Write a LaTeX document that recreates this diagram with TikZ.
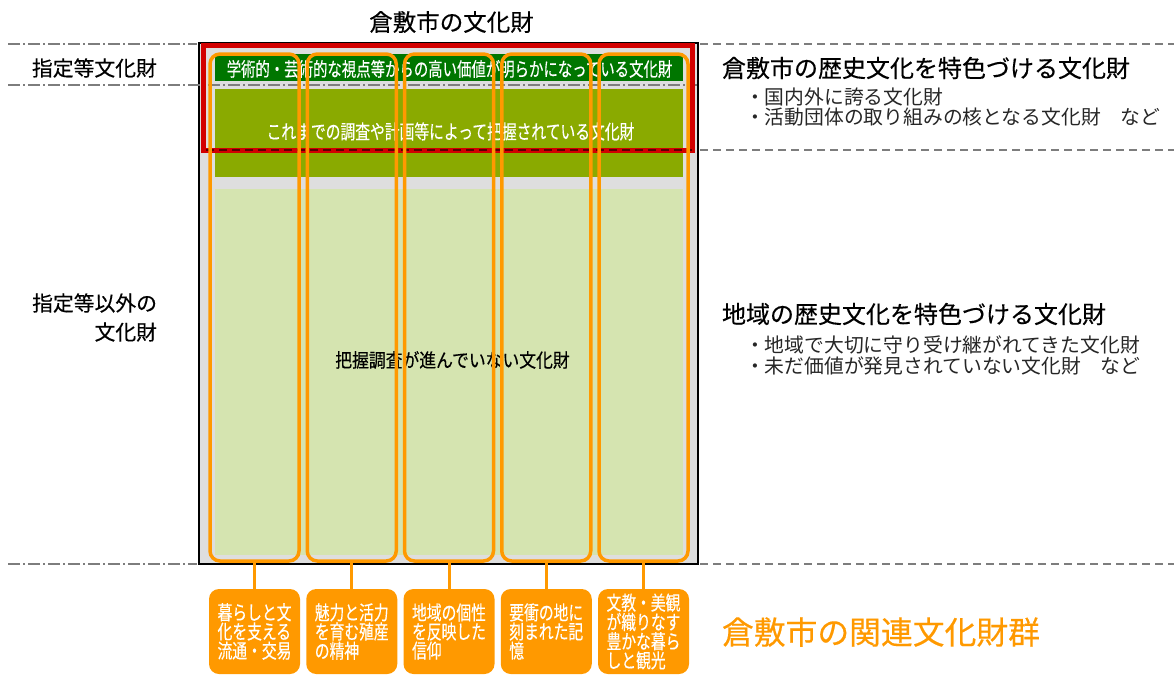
\documentclass[tikz,border=0pt]{standalone}
\usepackage{fontspec}
\setmainfont{Noto Sans CJK JP}[FakeBold=0.35]
\newfontfamily\jpl{Noto Sans CJK JP}
\newfontfamily\jpc{Noto Sans CJK JP}[FakeStretch=0.75,FakeBold=0.3]
\newfontfamily\jpd{Noto Sans CJK JP}[FakeStretch=0.88,FakeBold=0.3]
\definecolor{bggray}{RGB}{222,222,222}
\definecolor{kred}{RGB}{210,0,0}
\definecolor{kdark}{RGB}{90,0,0}
\definecolor{dgreen}{RGB}{0,118,0}
\definecolor{kolive}{RGB}{138,170,0}
\definecolor{lgreen}{RGB}{213,228,176}
\definecolor{korange}{RGB}{255,153,0}
\definecolor{lineg}{RGB}{125,125,125}
\begin{document}
\begin{tikzpicture}[x=1pt,y=-1pt,
  ddline/.style={lineg, line width=1.3pt, dash pattern=on 12pt off 3pt on 2pt off 3pt},
  dline/.style={lineg, line width=1.3pt, dash pattern=on 8pt off 5pt},
  box/.style={inner sep=0pt, outer sep=0pt},
  colbox/.style={draw=korange, line width=3.5pt, rounded corners=10pt, minimum width=89pt, minimum height=507pt, inner sep=0pt, outer sep=0pt},
  labbox/.style={fill=korange, rounded corners=10pt, minimum width=91pt, minimum height=85pt, inner sep=0pt, outer sep=0pt, text=white, font=\jpc\fontsize{19.7}{16.6}\selectfont, align=left},
  conn/.style={korange, line width=3pt},
  txt/.style={inner sep=0pt, outer sep=0pt},
  bullet/.style={inner sep=0pt, outer sep=0pt, anchor=west, text=black!85, font=\jpl\fontsize{19.8}{22}\selectfont}]
\useasboundingbox (0,0) rectangle (1174,675);

% outer frame
\node[box, draw=black, line width=2pt, fill=bggray, minimum width=498.5pt, minimum height=521pt] (outer) at (448.25,303.5) {};

% guide lines
\coordinate (l1a) at (8,44);   \coordinate (l1b) at (197,44);
\coordinate (l2a) at (8,85);   \coordinate (l2b) at (697,85);
\coordinate (l3a) at (8,564);  \coordinate (l3b) at (197,564);
\coordinate (r1a) at (700,44); \coordinate (r1b) at (1174,44);
\coordinate (r2a) at (700,150);\coordinate (r2b) at (1174,150);
\coordinate (r3a) at (700,564);\coordinate (r3b) at (1174,564);
\draw[ddline] (l1a) -- (l1b);
\draw[ddline] (l2a) -- (l2b);
\draw[ddline] (l3a) -- (l3b);
\draw[dline] (r1a) -- (r1b);
\draw[dline] (r2a) -- (r2b);
\draw[dline] (r3a) -- (r3b);

% coloured bands
\node[box, fill=dgreen, minimum width=468pt, minimum height=27pt] (top) at (449,67.5) {};
\node[txt, text=white, font=\jpc\fontsize{19.2}{20}\selectfont] (topt) at (449.5,69) {学術的・芸術的な視点等からの高い価値が明らかになっている文化財};
\node[box, fill=kolive, minimum width=468pt, minimum height=88pt] (mid) at (449,133) {};
\node[txt, text=white, font=\jpc\fontsize{19.7}{20}\selectfont] (midt) at (450.5,131.5) {これまでの調査や計画等によって把握されている文化財};
\node[box, fill=lgreen, minimum width=468pt, minimum height=366pt] (low) at (449,372) {};
\node[txt, text=black, font=\jpd\fontsize{19.1}{20}\selectfont] (lowt) at (452.5,360) {把握調査が進んでいない文化財};

% red frame
\node[box, draw=kred, line width=5pt, minimum width=489pt, minimum height=104.5pt] (redbox) at (447.5,97.75) {};
\coordinate (rd1) at (206,150); \coordinate (rd2) at (692,150);
\draw[kdark, line width=1.5pt, dash pattern=on 8pt off 5pt] (rd1) -- (rd2);

% columns
\foreach \i/\x in {1/254.5,2/351.75,3/449,4/546.25,5/643.5}{
  \node[colbox] (col\i) at (\x,307.5) {};
}

% labels
\node[labbox] (lab1) at (254.5,631.5) {暮らしと文\\化を支える\\流通・交易};
\node[labbox] (lab2) at (351.75,631.5) {魅力と活力\\を育む殖産\\の精神\phantom{産産}};
\node[labbox] (lab3) at (449,631.5) {地域の個性\\を反映した\\信仰\phantom{信信信}};
\node[labbox] (lab4) at (546.25,631.5) {要衝の地に\\刻まれた記\\憶\phantom{憶憶憶憶}};
\node[labbox] (lab5) at (643.5,631.5) {文教・美観\\が織りなす\\豊かな暮ら\\しと観光\phantom{光}};
\foreach \i in {1,...,5}{
  \draw[conn] (col\i.south) -- (lab\i.north);
}

% title and side texts
\node[txt, font=\fontsize{23.5}{26}\selectfont] (title) at (451.5,22) {倉敷市の文化財};
\node[txt, anchor=west, font=\fontsize{20.8}{24}\selectfont] (desig) at (32,68) {指定等文化財};
\node[txt, anchor=east, align=right, font=\fontsize{20.8}{29}\selectfont] (nondesig) at (157,317.5) {指定等以外の\\文化財};

\node[txt, anchor=west, font=\fontsize{24}{28}\selectfont] (h1) at (722,68) {倉敷市の歴史文化を特色づける文化財};
\node[bullet] (b1) at (745,97) {・国内外に誇る文化財};
\node[bullet] (b2) at (745,117) {・活動団体の取り組みの核となる文化財　など};

\node[txt, anchor=west, font=\fontsize{24}{28}\selectfont] (h2) at (722,314) {地域の歴史文化を特色づける文化財};
\node[bullet] (b3) at (745,345) {・地域で大切に守り受け継がれてきた文化財};
\node[bullet] (b4) at (745,366) {・未だ価値が発見されていない文化財　など};

\node[txt, anchor=west, text=korange, font=\fontsize{31.8}{34}\selectfont] (group) at (722,632) {倉敷市の関連文化財群};
\end{tikzpicture}
\end{document}
